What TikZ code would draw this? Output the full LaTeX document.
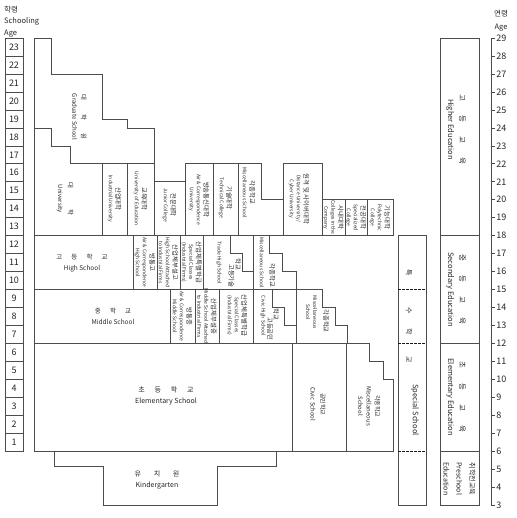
\documentclass[tikz,border=0pt]{standalone}
\usepackage{fontspec}
\setmainfont{Noto Sans CJK KR}
\usepackage{tikz}
\newcommand\kr{\fontsize{6.4}{7}\selectfont}

\begin{document}
\begin{tikzpicture}[x=1pt,y=17.95pt]
\tikzset{
	wall/.style = {draw=black!70, line width=.6pt},
	lab/.style = {font=\fontsize{5}{7}\selectfont, align=center, rotate=-90, inner sep=0, text=black!85},
	edu lab/.style = {lab, font=\fontsize{7.5}{11.5}\selectfont},
	big lab/.style = {font=\fontsize{7}{11}\selectfont, align=center, inner sep=0, text=black!85},
	age box/.style = {wall, minimum width=18pt, minimum height=17.95pt, inner sep=0, font=\fontsize{9}{10}\selectfont, text=black!85},
}
\useasboundingbox (0,-3.7326) rectangle (516,25.1253);

\node[anchor=north west, align=left, inner sep=0, font=\fontsize{7.5}{11.5}\selectfont, text=black!85] (hdl) at (4,24.8) {학령\\Schooling\\Age};
\node[align=center, inner sep=0, font=\fontsize{7.5}{13}\selectfont, text=black!85] (hdr) at (501,23.98) {연령\\Age};
\foreach \n in {1,...,23}
	\node[age box] (s\n) at (14,\n-0.5) {\n};

% higher education
\draw[wall] (34,0) -- (34,23) -- (51,23) -- (51,21) -- (102,21) -- (102,18.5) -- (127,18.5) -- (127,18) -- (154,18) -- (154,12);
\draw[wall] (34,18) -- (51,18) -- (51,17) -- (70,17) -- (70,16) -- (154,16);
\draw[wall] (154,15) -- (185,15);
\draw[wall] (185,12) -- (185,16) -- (261,16) -- (261,14) -- (283,14);
\draw[wall] (283,12) -- (283,16) -- (322,16) -- (322,12);
\draw[wall] (322,14) -- (393,14) -- (393,12);
\foreach \x in {102,127,213,238}
	\draw[wall] (\x,12) -- (\x,16);
\foreach \x in {345,367}
	\draw[wall] (\x,12) -- (\x,14);
\draw[wall] (34,12) -- (393,12);

\node[lab, font=\fontsize{6}{9}\selectfont] (grad) at (79.5,18.6) {{\kr 대\hspace{2.1em}학\hspace{2.1em}원}\\Graduate School};
\node[lab, font=\fontsize{6}{10}\selectfont] (univ) at (65,14.04) {{\kr 대\hspace{3.4em}학}\\University};
\node[lab] (indu) at (114.5,14.04) {{\kr 산업대학}\\Industrial University};
\node[lab] (educ) at (140.5,14.04) {{\kr 교육대학}\\University of Education};
\node[lab] (juni) at (169.5,13.7) {{\kr 전문대학}\\Junior College};
\node[lab] (airu) at (199,14.0) {{\kr 방송통신대학}\\Air \& Correspondence\\University};
\node[lab] (tech) at (225.5,14.1) {{\kr 기술대학}\\Technical College};
\node[lab] (misu) at (249,14.4) {{\kr 각종학교}\\Miscellaneous School};
\node[lab] (dist) at (299,14.04) {{\kr 원격 및 사이버대학}\\Distance University /\\Cyber University};
\node[lab] (comp) at (333.5,13) {{\kr 사내대학}\\Colleges in the\\Company};
\node[lab] (spec) at (356,13) {{\kr 전공대학}\\Specialized\\College};
\node[lab] (poly) at (380,13) {{\kr 기능대학}\\Polytechnic\\College};

% secondary education
\foreach \x in {133,157,180,203,253}
	\draw[wall] (\x,9) -- (\x,12);
\draw[wall] (230,12) -- (230,11) -- (242,11) -- (242,10) -- (253,10);
\draw[wall] (269,12) -- (269,11) -- (282,11) -- (282,10) -- (296,10) -- (296,9);
\draw[wall] (34,9) -- (322,9) -- (322,8) -- (335,8) -- (335,7) -- (347,7) -- (347,6);
\foreach \x in {170,195,219,253,296}
	\draw[wall] (\x,6) -- (\x,9);
\draw[wall] (272,9) -- (272,8) -- (284,8) -- (284,7) -- (296,7);

\node[big lab, font=\fontsize{6.5}{11}\selectfont] (high) at (82,10.45) {고\hspace{1.4em}등\hspace{1.4em}학\hspace{1.4em}교\\High School};
\node[lab] (airh) at (145,10.5) {{\kr 방통고}\\Air \& Correspondence\\High School};
\node[lab] (atth) at (168.5,10.5) {{\kr 산업체부설고}\\High School Attached\\to Industrial Firms};
\node[lab] (sclh) at (191.5,10.5) {{\kr 산업체특별학급}\\Special Classes\\(Industrial Firms)};
\node[lab] (trad) at (219,10.47) {Trade High School};
\node[lab, font=\kr] (trk1) at (238,10.4) {학교};
\node[lab, font=\kr] (trk2) at (231.5,9.75) {고등기술};
\node[lab, font=\fontsize{5}{10}\selectfont, align=right] (mish) at (267.5,10.5) {{\kr 각종학교}\\Miscellaneous School};

\node[big lab, font=\fontsize{6.5}{11}\selectfont] (midd) at (113,7.5) {중\hspace{1.4em}학\hspace{1.4em}교\\Middle School};
\node[lab] (airm) at (182.5,7.5) {{\kr 방통중}\\Air \& Correspondence\\Middle School};
\node[lab] (attm) at (207,7.5) {{\kr 산업체부설중}\\Middle School Attached\\to Industrial Firms};
\node[lab] (sclm) at (237,7.55) {{\kr 산업체특별학급}\\Special Classes\\(Industrial Firms)};
\node[lab] (civh) at (263,7.52) {Civic High School};
\node[lab, font=\kr] (cvk1) at (276,7.63) {학교};
\node[lab, font=\kr] (cvk2) at (270,6.8) {고등공민};
\node[lab] (mism) at (311.5,7.74) {Miscellaneous\\School};
\node[lab, font=\kr] (mmk) at (326,7.24) {각종학교};

% elementary and kindergarten
\draw[wall] (34,6) -- (369,6) -- (369,5) -- (383,5) -- (383,4) -- (393,4) -- (393,0) -- (34,0);
\draw[wall] (292,0) -- (292,6) (346,0) -- (346,6);
\draw[wall] (54,0) -- (54,-0.85) -- (103,-0.85) -- (103,-3) -- (217,-3) -- (217,-0.85) -- (276,-0.85) -- (276,0);

\node[big lab] (elem) at (166,3.06) {초\hspace{1.4em}등\hspace{1.4em}학\hspace{1.4em}교\\Elementary School};
\node[lab, font=\fontsize{6}{10}\selectfont] (civs) at (318,2.6) {공민학교\\Civic School};
\node[lab, font=\fontsize{6}{8.5}\selectfont] (mise) at (369,2.5) {각종학교\\Miscellaneous\\School};
\node[big lab] (kind) at (157,-1.64) {유\hspace{1.8em}치\hspace{1.8em}원\\Kindergarten};

% special school
\draw[wall] (398,-3) rectangle (426,12);
\foreach \l in {9,6,0}
	\draw[black!90, line width=.8pt, dash pattern=on 2.5pt off 1.5pt] (398,\l) -- (426,\l);
\node[edu lab, font=\fontsize{7}{9}\selectfont] (sp1) at (409,9.92) {특};
\node[edu lab, font=\fontsize{7}{9}\selectfont] (sp2) at (409,7.8) {수};
\node[edu lab, font=\fontsize{7}{9}\selectfont] (sp3) at (409,6.63) {학};
\node[edu lab, font=\fontsize{7}{9}\selectfont] (sp4) at (409,5.07) {교};
\node[edu lab] (spe) at (415,2.28) {Special School};

% levels of education
\draw[wall] (440,-3) rectangle (479,23);
\foreach \l in {12,6,0}
	\draw[wall] (440,\l) -- (479,\l);
\node[edu lab] (lhi) at (456,17.9) {고\hspace{1.9em}등\hspace{1.9em}교\hspace{1.9em}육\\Higher Education};
\node[edu lab] (lse) at (456,9) {중\hspace{1.9em}등\hspace{1.9em}교\hspace{1.9em}육\\Secondary Education};
\node[edu lab] (lel) at (456,3) {초\hspace{1.9em}등\hspace{1.9em}교\hspace{1.9em}육\\Elementary Education};
\node[edu lab, font=\fontsize{7}{13}\selectfont] (lpr) at (459.5,-1.55) {취학전교육\\Preschool\\Education};

% age axis
\draw[wall] (491,-3) -- (491,23);
\foreach \a in {3,...,29}
	\draw[wall] (491,\a-6) -- ++(4,0) node[right, inner sep=1pt, font=\fontsize{9}{10}\selectfont, text=black!85] (a\a) {\a};
\end{tikzpicture}
\end{document}
